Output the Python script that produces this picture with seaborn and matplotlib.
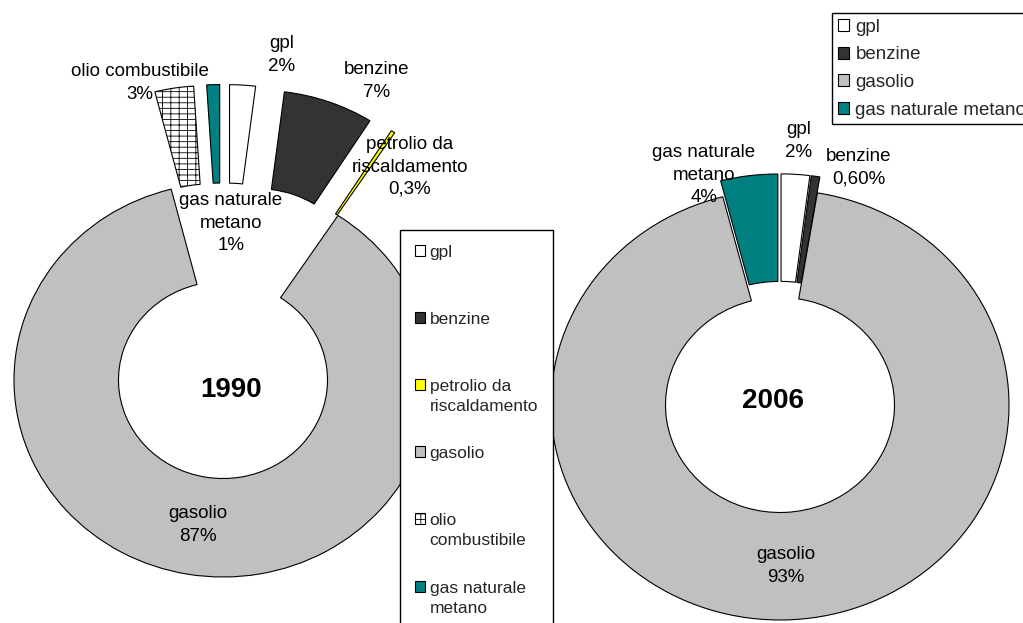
import matplotlib
matplotlib.use("Agg")
import matplotlib.pyplot as plt
import seaborn as sns

sns.set_theme(style="white")
plt.rcParams["font.family"] = ["Liberation Sans", "DejaVu Sans"]
plt.rcParams["hatch.linewidth"] = 0.6

# ---- DATA ----
# 1990, in the order Excel draws them (clockwise from the top)
fuels_1990 = ["gpl", "benzine", "petrolio da riscaldamento", "gasolio",
              "olio combustibile", "gas naturale metano"]
shares_1990 = [2, 7, 0.3, 87, 3, 1]
pct_1990 = ["2%", "7%", "0,3%", "87%", "3%", "1%"]

# 2006
fuels_2006 = ["gpl", "benzine", "gasolio", "gas naturale metano"]
shares_2006 = [2, 0.6, 93, 4]
pct_2006 = ["2%", "0,60%", "93%", "4%"]

fuel_colors = {
    "gpl": "#FFFFFF",
    "benzine": "#333333",
    "petrolio da riscaldamento": "#FFFF00",
    "gasolio": "#C0C0C0",
    "olio combustibile": "#FFFFFF",
    "gas naturale metano": "#008080",
}

# ---- LAYOUT (pixels, from top-left) ----
W, H = 1023, 623
FS = 13.5

fig = plt.figure(figsize=(W / 100, H / 100), dpi=100)
fig.patch.set_facecolor("white")


def donut_axes(cx, cy, rx, ry):
    # data units: 1 = outer radius, slightly squashed like the excel chart
    ax = fig.add_axes([(cx - 2 * rx) / W, (H - cy - 2 * ry) / H, 4 * rx / W, 4 * ry / H])
    return ax


def px_text(x, y, s, size=FS, **kw):
    return fig.text(x / W, 1 - y / H, s, ha="center", va="center", fontsize=size,
                    color="black", multialignment="center", linespacing=1.4, **kw)


def draw_donut(ax, fuels, shares, explode):
    pal = sns.color_palette([fuel_colors[f] for f in fuels])
    wedges, _ = ax.pie(shares, colors=pal, startangle=90, counterclock=False,
                       explode=explode, radius=1,
                       wedgeprops=dict(width=0.5, edgecolor="black", linewidth=0.8))
    for w, f in zip(wedges, fuels):
        if f == "olio combustibile":
            w.set_hatch("---||")
    ax.set_aspect("auto")
    ax.set_xlim(-2, 2)
    ax.set_ylim(-2, 2)
    ax.axis("off")
    ax.patch.set_visible(False)
    return wedges


ax1 = donut_axes(223, 380, 209, 197)
expl_1990 = [0 if f == "gasolio" else 0.5 for f in fuels_1990]
w1 = draw_donut(ax1, fuels_1990, shares_1990, expl_1990)

ax2 = donut_axes(780, 405, 229, 215)
expl_2006 = [0 if f == "gasolio" else 0.075 for f in fuels_2006]
w2 = draw_donut(ax2, fuels_2006, shares_2006, expl_2006)

# slice labels
lab_1990 = {
    "gpl": ("gpl", 282, 55),
    "benzine": ("benzine", 377, 81),
    "petrolio da riscaldamento": ("petrolio da\nriscaldamento", 410, 167),
    "gasolio": ("gasolio", 198, 525),
    "olio combustibile": ("olio combustibile", 140, 83),
    "gas naturale metano": ("gas naturale\nmetano", 231, 223),
}
for f, p in zip(fuels_1990, pct_1990):
    name, x, y = lab_1990[f]
    px_text(x, y, name + "\n" + p)

lab_2006 = {
    "gpl": ("gpl", 799, 141),
    "benzine": ("benzine", 859, 168),
    "gasolio": ("gasolio", 786, 566),
    "gas naturale metano": ("gas naturale\nmetano", 704, 175),
}
for f, p in zip(fuels_2006, pct_2006):
    name, x, y = lab_2006[f]
    px_text(x, y, name + "\n" + p)

px_text(231, 390, "1990", size=20, fontweight="bold")
px_text(773, 401, "2006", size=20, fontweight="bold")

# legends
leg_names_1990 = ["gpl\n", "benzine\n", "petrolio da\nriscaldamento", "gasolio\n",
                  "olio\ncombustibile", "gas naturale\nmetano"]
leg1 = fig.legend(w1, leg_names_1990, loc="upper left",
                  bbox_to_anchor=(400 / W, 1 - 230 / H), bbox_transform=fig.transFigure,
                  frameon=True, fancybox=False, edgecolor="black", framealpha=1,
                  borderaxespad=0, borderpad=0.85, labelspacing=1.85,
                  handlelength=0.6, handleheight=0.6, handletextpad=0.25, fontsize=12.5)
leg1.get_frame().set_linewidth(1.0)
for t in leg1.get_texts():
    t.set_linespacing(1.42)
# markers next to the first line, like excel
for col in leg1._legend_handle_box.get_children():
    for item in col.get_children():
        item.align = "top"

leg2 = fig.legend(w2, fuels_2006, loc="upper left",
                  bbox_to_anchor=(832 / W, 1 - 13 / H), bbox_transform=fig.transFigure,
                  frameon=True, fancybox=False, edgecolor="black", framealpha=1,
                  borderaxespad=0, borderpad=0.3, labelspacing=0.57,
                  handlelength=0.6, handleheight=0.6, handletextpad=0.35, fontsize=FS)
leg2.get_frame().set_linewidth(1.0)

fig.savefig("out.png", dpi=100)
